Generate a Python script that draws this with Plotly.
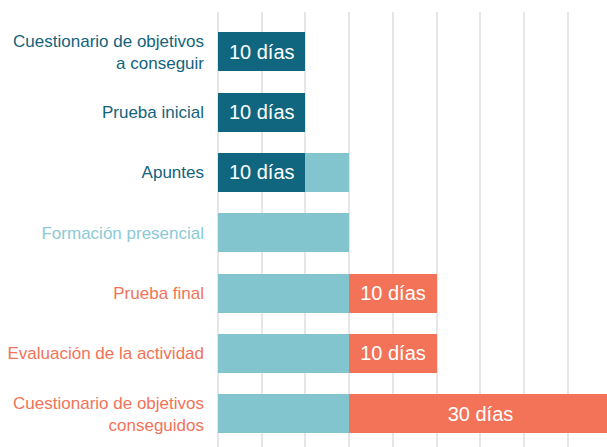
import plotly.graph_objects as go

categories = [
    "Cuestionario de objetivos<br>a conseguir",
    "Prueba inicial",
    "Apuntes",
    "Formación presencial",
    "Prueba final",
    "Evaluación de la actividad",
    "Cuestionario de objetivos<br>conseguidos",
]
label_groups = ["dark", "dark", "dark", "light", "red", "red", "red"]

dark_days = [10, 10, 10, 0, 0, 0, 0]
light_days = [0, 0, 5, 15, 15, 15, 15]
red_days = [0, 0, 0, 0, 10, 10, 30]

dark_text = ["10 días", "10 días", "10 días", "", "", "", ""]
red_text = ["", "", "", "", "10 días", "10 días", "30 días"]

colors = {"dark": "#10667f", "light": "#83c5cf", "red": "#f27357"}
label_colors = {"dark": "#13637d", "light": "#8ccad5", "red": "#f27358"}

idx = list(range(len(categories)))

fig = go.Figure()
common = dict(orientation="h", y=idx, textposition="inside", insidetextanchor="middle",
              textfont=dict(color="white", size=20, family="Liberation Sans, Arial, sans-serif"),
              constraintext="none", hoverinfo="skip")
fig.add_trace(go.Bar(x=dark_days, text=dark_text, marker=dict(color=colors["dark"], line=dict(width=0)), **common))
fig.add_trace(go.Bar(x=light_days, marker=dict(color=colors["light"], line=dict(width=0)), **common))
fig.add_trace(go.Bar(x=red_days, text=red_text, marker=dict(color=colors["red"], line=dict(width=0)), **common))

ticktext = [f'<span style="color:{label_colors[g]}">{c}</span>' for c, g in zip(categories, label_groups)]

fig.update_layout(
    width=607, height=447,
    margin=dict(l=218, r=0, t=12, b=0),
    barmode="stack",
    bargap=0.355,
    showlegend=False,
    plot_bgcolor="white",
    paper_bgcolor="white",
    font=dict(family="Liberation Sans, Arial, sans-serif", size=17),
    xaxis=dict(range=[0, 44.46], dtick=5, tick0=0, showticklabels=False,
               showgrid=True, gridcolor="#e6e6e6", gridwidth=2,
               zeroline=True, zerolinecolor="#e6e6e6", zerolinewidth=2, showline=False),
    yaxis=dict(tickmode="array", tickvals=idx, ticktext=ticktext, range=[6.55, -0.66],
               showgrid=False, zeroline=False, showline=False, ticks="",
               ticklabelstandoff=13, tickfont=dict(size=17), automargin=False),
)

fig.write_html("out.html", config={"displayModeBar": False},
               post_script="document.body.style.margin='0px';document.body.style.overflow='hidden';")
